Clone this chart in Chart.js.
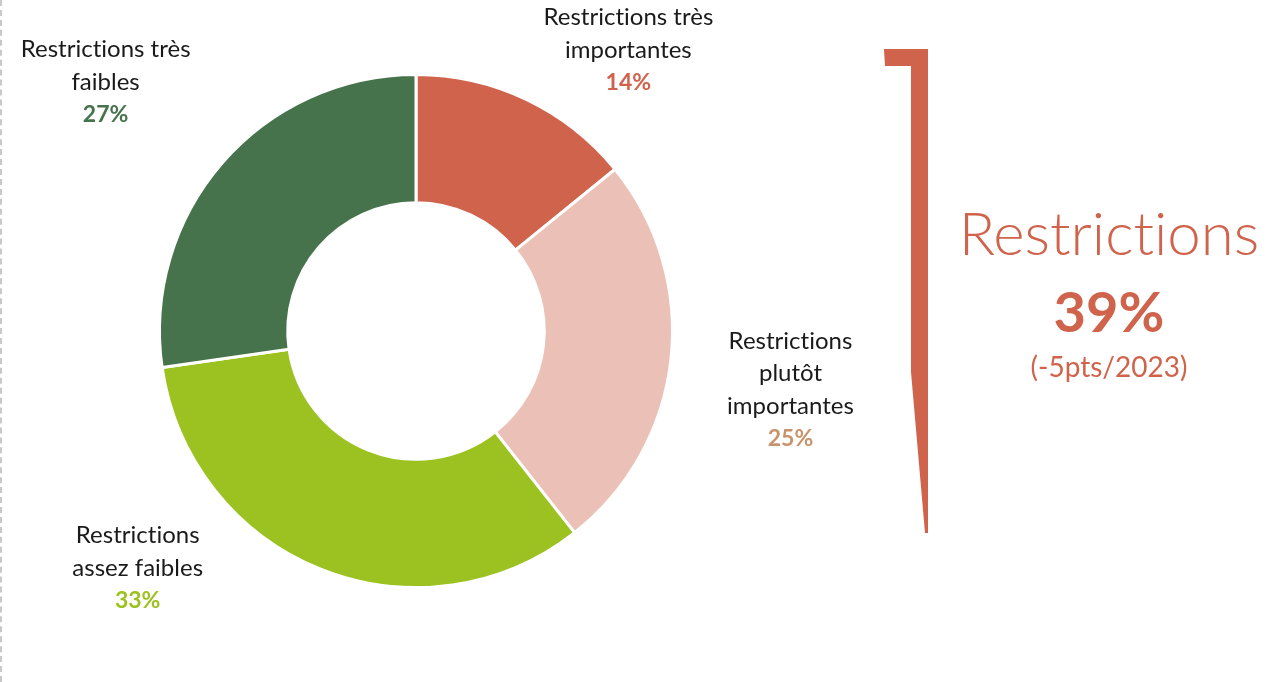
<!DOCTYPE html>
<html><head><meta charset="utf-8">
<script src="https://cdn.jsdelivr.net/npm/chart.js@4/dist/chart.umd.min.js"></script>
<style>
html,body{margin:0;padding:0;background:#fff;overflow:hidden}
#wrap{position:relative;width:1281px;height:682px}
#wrap:before{content:"";position:absolute;left:0;top:0;bottom:0;border-left:2px dashed #c8c8c8}
</style></head><body>
<div id="wrap"><canvas id="c" width="1281" height="682"></canvas></div>
<script>
const categories = [
  ["Restrictions très", "importantes"],
  ["Restrictions", "plutôt", "importantes"],
  ["Restrictions", "assez faibles"],
  ["Restrictions très", "faibles"]
];
const values = [14, 25, 33, 27];
const colors = ["#D0634B", "#EBC0B6", "#9BC220", "#46734B"];
const labelColors = ["#D0634B", "#C8926B", "#9BC220", "#46734B"];
const summaryTitle = "Restrictions";
const summaryValue = "39%";
const summaryNote = "(-5pts/2023)";
// label anchor offsets relative to center, in units of the outer radius
const labelAnchors = [[0.828, -1.222], [1.46, 0.04], [-1.085, 0.797], [-1.21, -1.097]];

const FONT = "Lato, 'Open Sans', sans-serif";

const labelsPlugin = {
  id: 'labels',
  afterDraw(chart) {
    const ctx = chart.ctx;
    const arc = chart.getDatasetMeta(0).data[0];
    const cx = arc.x, cy = arc.y, R = arc.outerRadius;
    ctx.save();
    try { ctx.textRendering = 'optimizeSpeed'; } catch (e) {}
    try { ctx.letterSpacing = '0.01px'; } catch (e) {}
    ctx.textAlign = 'center';
    ctx.textBaseline = 'middle';
    const lh = 32.5;
    values.forEach((v, i) => {
      const [ax, ay] = labelAnchors[i];
      const x = cx + ax * R, y0 = cy + ay * R;
      const lines = categories[i];
      ctx.font = "400 24px " + FONT;
      ctx.fillStyle = "#1a1a1a";
      lines.forEach((t, k) => ctx.fillText(t, x, y0 + k * lh));
      ctx.font = "700 23px " + FONT;
      ctx.fillStyle = labelColors[i];
      ctx.fillText(v + "%", x, y0 + lines.length * lh);
    });
    // bracket
    ctx.fillStyle = "#D0634B";
    ctx.beginPath();
    ctx.moveTo(884, 49); ctx.lineTo(928, 49); ctx.lineTo(928, 533);
    ctx.lineTo(925, 533); ctx.lineTo(911, 372); ctx.lineTo(911, 66);
    ctx.lineTo(885, 66); ctx.closePath(); ctx.fill();
    // summary
    const sx = 1109;
    ctx.fillStyle = "#D0634B";
    ctx.textBaseline = 'alphabetic';
    ctx.font = "300 60px " + FONT;
    ctx.fillText(summaryTitle, sx, 255);
    ctx.font = "700 56px " + FONT;
    ctx.fillText(summaryValue, sx, 332);
    ctx.font = "400 28px " + FONT;
    ctx.fillText(summaryNote, sx, 377);
    ctx.restore();
  }
};

new Chart(document.getElementById('c'), {
  type: 'doughnut',
  data: {
    labels: categories.map(l => l.join(' ')),
    datasets: [{
      data: values,
      backgroundColor: colors,
      borderColor: '#ffffff',
      borderWidth: 3,
      hoverOffset: 0
    }]
  },
  options: {
    responsive: false,
    animation: false,
    cutout: '50%',
    layout: { padding: { left: 158, top: 73, right: 607, bottom: 93 } },
    plugins: { legend: { display: false }, tooltip: { enabled: false } }
  },
  plugins: [labelsPlugin]
});
</script>
</body></html>
